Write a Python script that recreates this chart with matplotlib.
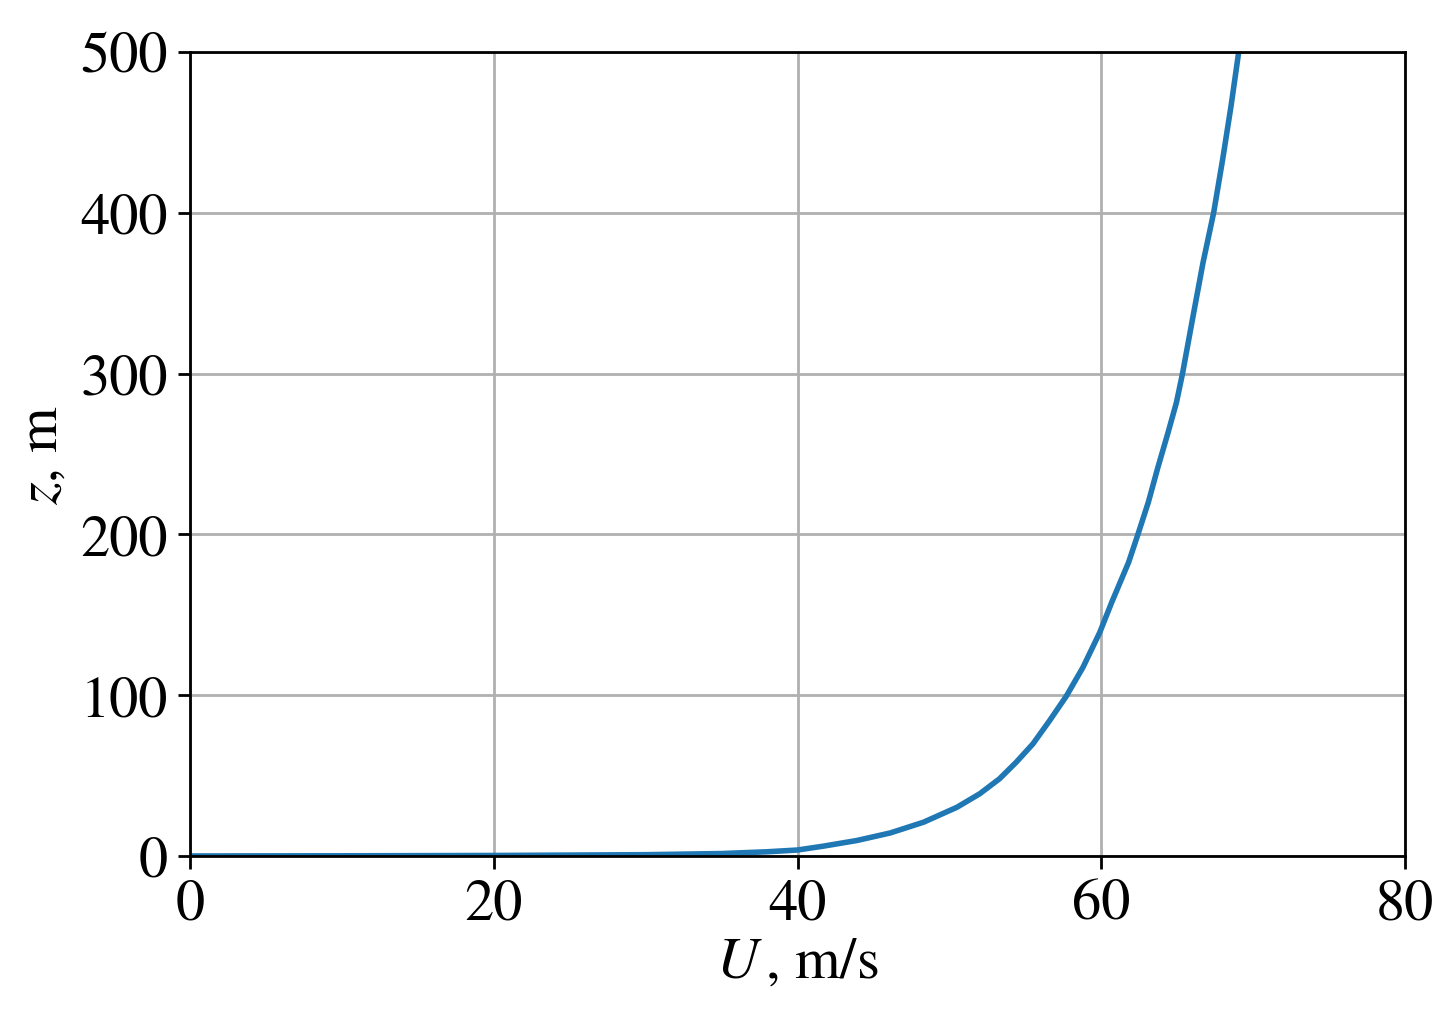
import matplotlib
matplotlib.use("Agg")
import matplotlib.pyplot as plt

# wind speed profile
wind_speed = [0, 10, 20, 30, 35, 38, 40, 41.7, 43.9, 46.1, 48.3, 50.5, 52.0,
              53.3, 54.4, 55.5, 56.6, 57.7, 58.8, 59.9, 60.7, 61.8, 62.4,
              63.1, 63.7, 64.4, 64.95, 65.35, 66.05, 66.7, 67.4, 68.0, 68.55,
              69.05]
height = [0, 0.1, 0.3, 0.8, 1.5, 2.6, 3.7, 6.1, 9.6, 14.3, 21, 30.3, 38.7,
          48, 58.3, 69.7, 84.2, 99.4, 117.4, 139, 158, 182.6, 199.6,
          220, 240.7, 263.4, 282, 300, 336, 369, 400, 433.6, 466.7,
          500]

x_ticks = [0, 20, 40, 60, 80]
y_ticks = [0, 100, 200, 300, 400, 500]

plt.rcParams['font.family'] = 'serif'
plt.rcParams['font.serif'] = ['STIXGeneral', 'Liberation Serif', 'DejaVu Serif']
plt.rcParams['mathtext.fontset'] = 'stix'

fig = plt.figure(figsize=(7.27, 5.06), dpi=200)
ax = fig.add_axes([0.1307, 0.1532, 0.8356, 0.7944])

ax.plot(wind_speed, height, color='tab:blue', lw=2.0)

ax.set_xlim(0, 80)
ax.set_ylim(0, 500)
ax.set_xticks(x_ticks)
ax.set_yticks(y_ticks)
ax.tick_params(labelsize=21, length=4.5, width=1.0)
for s in ax.spines.values():
    s.set_linewidth(1.0)
ax.grid(True, color='#b0b0b0', lw=1.0)

ax.set_xlabel('$U\\,$, m/s', fontsize=21, labelpad=2)
ax.set_ylabel('$z$, m', fontsize=21, labelpad=4)

fig.savefig('out.png', dpi=200)
